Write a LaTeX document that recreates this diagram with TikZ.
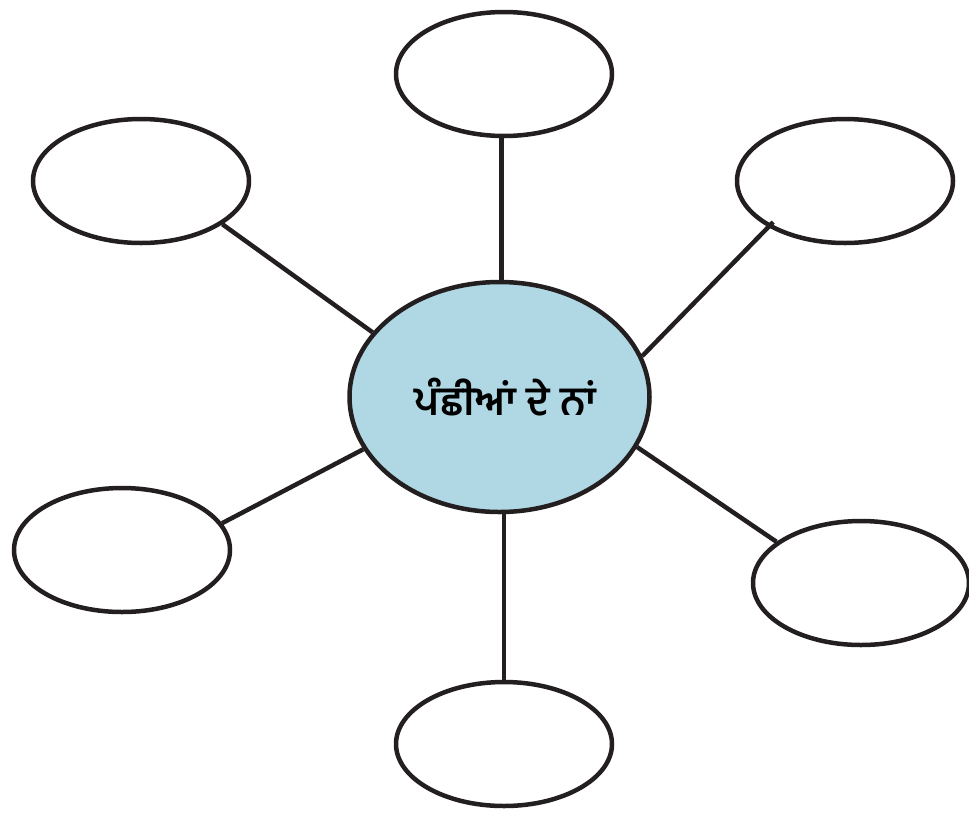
\documentclass[tikz,border=0pt]{standalone}
\usepackage{fontspec}
\newfontfamily\gurmukhi[Script=Gurmukhi]{Hind Jalandhar}
\usepackage{tikz}
\usetikzlibrary{shapes.geometric}

\definecolor{ink}{RGB}{35,31,32}
\definecolor{hubblue}{RGB}{176,216,228}

\tikzset{
    bubble/.style={ellipse, draw=ink, line width=4.5pt, fill=white, inner sep=0pt,
        minimum width=216pt, minimum height=124pt},
    hub/.style={ellipse, draw=ink, line width=4.5pt, fill=hubblue, inner sep=0pt,
        minimum width=300pt, minimum height=230pt},
    spoke/.style={draw=ink, line width=4.5pt}
}

\begin{document}
\begin{tikzpicture}[x=1pt, y=-1pt]
        \useasboundingbox (0, 0) rectangle (969, 812);

        \node[hub] (hub) at (499.5, 397) {\gurmukhi\bfseries\fontsize{40pt}{46pt}\selectfont\hspace*{12pt}ਪੰਛੀਆਂ ਦੇ ਨਾਂ};
        \node[bubble] (top) at (504, 74) {};
        \node[bubble] (topleft) at (141, 181) {};
        \node[bubble] (topright) at (845, 181) {};
        \node[bubble] (botleft) at (122, 550) {};
        \node[bubble] (botright) at (861, 583) {};
        \node[bubble] (bot) at (504, 744) {};

        \draw[spoke] ([xshift=2pt]hub.north) -- ([xshift=2pt]hub.north |- top.south);
        \draw[spoke] (hub.153.8) -- (topleft.-28);
        \draw[spoke, shorten >=-7pt] (hub.16.4) -- (topright.211);
        \draw[spoke] (hub.201.5) -- (botleft.15.2);
        \draw[spoke] (hub.-20.9) -- (botright.154);
        \draw[spoke] (bot.north |- hub.south) -- (bot.north);
    \end{tikzpicture}
\end{document}
